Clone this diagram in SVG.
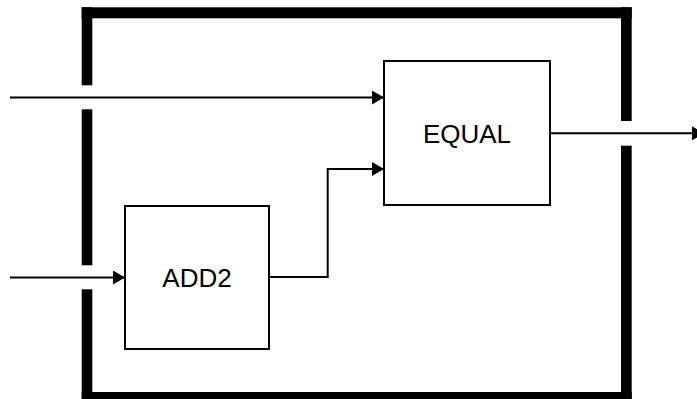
<svg xmlns="http://www.w3.org/2000/svg" width="697" height="399" viewBox="0 0 697 399">
<style>
.frame{fill:#000}
.box{fill:#fff;stroke:#000;stroke-width:2}
.lbl{font-family:"Liberation Sans",Arial,sans-serif;font-size:26px;fill:#000;text-anchor:middle}
.wire{fill:none;stroke:#000;stroke-width:2}
</style>
<defs>
<marker id="ah" markerUnits="userSpaceOnUse" markerWidth="12" markerHeight="14" refX="12" refY="7" orient="auto">
<path d="M0,0 L12,7 L0,14 z" fill="#000"/>
</marker>
</defs>
<rect width="697" height="399" fill="#fff"/>
<g id="frame">
<rect class="frame" x="81.7" y="7.3" width="550" height="11"/>
<rect class="frame" x="81.7" y="392" width="550" height="12"/>
<rect class="frame" x="81.7" y="7.3" width="10.6" height="78"/>
<rect class="frame" x="81.7" y="109.3" width="10.6" height="156"/>
<rect class="frame" x="81.7" y="289.3" width="10.6" height="110"/>
<rect class="frame" x="621" y="7.3" width="10.7" height="113.7"/>
<rect class="frame" x="621" y="145.7" width="10.7" height="255"/>
</g>
<g id="connectors">
<path class="wire" d="M10,97.5 H384" marker-end="url(#ah)"/>
<path class="wire" d="M10,277.5 H125" marker-end="url(#ah)"/>
<path class="wire" d="M269,277 H327.7 V169 H384" marker-end="url(#ah)"/>
<path class="wire" d="M550,133.3 H704" marker-end="url(#ah)"/>
</g>
<g id="equal">
<rect class="box" x="384" y="61" width="166" height="144"/>
<text class="lbl" x="467" y="142.5">EQUAL</text>
</g>
<g id="add2">
<rect class="box" x="125" y="206" width="144" height="143"/>
<text class="lbl" x="197" y="286.5">ADD2</text>
</g>
</svg>
